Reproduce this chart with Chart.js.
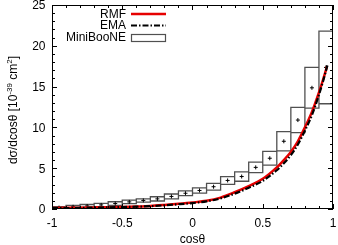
<!DOCTYPE html>
<html>
<head>
<meta charset="utf-8">
<script src="https://cdn.jsdelivr.net/npm/chart.js@4.4.0/dist/chart.umd.min.js"></script>
<style>
  html, body { margin: 0; padding: 0; background: #fff; }
  #wrap { width: 338px; height: 245px; }
</style>
</head>
<body>
<div id="wrap"><canvas id="chart" width="338" height="245"></canvas></div>
<script>
/* ================================================
   dσ/dcosθ : RMF / EMA vs MiniBooNE
   ================================================ */

// model curves
const rmfCos = [-1, -0.9, -0.8, -0.7, -0.6, -0.5, -0.4, -0.3, -0.2, -0.1, 0, 0.1, 0.2, 0.3, 0.4, 0.5, 0.6, 0.65, 0.7, 0.75, 0.8, 0.85, 0.9, 0.93, 0.958];
const rmf    = [0.12, 0.14, 0.16, 0.19, 0.22, 0.26, 0.31, 0.38, 0.5, 0.64, 0.8, 1.0, 1.4, 2.05, 2.8, 3.7, 5.1, 6.0, 7.0, 8.3, 10.0, 11.9, 14.3, 15.9, 17.5];
const emaCos = [-1, -0.9, -0.8, -0.7, -0.6, -0.5, -0.4, -0.3, -0.2, -0.1, 0, 0.1, 0.2, 0.3, 0.4, 0.5, 0.6, 0.65, 0.7, 0.75, 0.8, 0.85, 0.9, 0.93, 0.96];
const ema    = [0.1, 0.12, 0.14, 0.17, 0.2, 0.24, 0.28, 0.35, 0.45, 0.58, 0.73, 0.93, 1.3, 1.88, 2.6, 3.45, 4.75, 5.6, 6.6, 7.9, 9.6, 11.5, 14.0, 15.7, 17.6];

// MiniBooNE bins (lower edge, width 0.1), value and error
const binLow   = [-1.0, -0.9, -0.8, -0.7, -0.6, -0.5, -0.4, -0.3, -0.2, -0.1, 0.0, 0.1, 0.2, 0.3, 0.4, 0.5, 0.6, 0.7, 0.8, 0.9];
const binWidth = 0.1;
const miniVal  = [0.17, 0.27, 0.37, 0.5, 0.67, 0.87, 1.05, 1.24, 1.54, 1.93, 2.27, 2.73, 3.5, 3.98, 5.1, 6.22, 8.3, 10.9, 14.85, 17.35];
const miniErr  = [0.13, 0.17, 0.18, 0.2, 0.22, 0.22, 0.2, 0.26, 0.3, 0.29, 0.33, 0.41, 0.47, 0.58, 0.65, 0.85, 1.18, 1.55, 2.5, 4.45];

// axes
const xTicks = [-1, -0.5, 0, 0.5, 1];
const yTicks = [0, 5, 10, 15, 20, 25];
const xMinorStep = 0.1;
const yMinorStep = 1;

const FONT = '12px "Liberation Sans", Arial, Helvetica, sans-serif';
const RED  = '#e60000';
const BOX  = '#505050';
const EMA_DASH = [6, 2, 1.5, 2];

function toPoints(xs, ys) {
  return xs.map((x, i) => ({ x, y: ys[i] }));
}

function boxOutline() {
  const pts = [];
  binLow.forEach((x0, i) => {
    const x1 = x0 + binWidth;
    const lo = miniVal[i] - miniErr[i];
    const hi = miniVal[i] + miniErr[i];
    pts.push({ x: x0, y: lo }, { x: x1, y: lo }, { x: x1, y: hi }, { x: x0, y: hi }, { x: x0, y: lo });
    pts.push({ x: x0, y: null });
  });
  return pts;
}

const frame = {
  id: 'frame',
  afterDatasetsDraw(chart) {
    const { ctx, chartArea: a, scales: { x, y } } = chart;
    ctx.save();

    // frame
    ctx.strokeStyle = '#000';
    ctx.lineWidth = 1;
    ctx.strokeRect(a.left + 0.5, a.top + 0.5, a.right - a.left - 1, a.bottom - a.top - 1);

    // inside ticks, mirrored
    ctx.beginPath();
    for (let v = -1; v <= 1.0001; v += xMinorStep) {
      const px = Math.round(x.getPixelForValue(v)) + 0.5;
      const major = xTicks.some(t => Math.abs(t - v) < 1e-6);
      const len = major ? 5 : 3;
      ctx.moveTo(px, a.bottom); ctx.lineTo(px, a.bottom - len);
      ctx.moveTo(px, a.top);    ctx.lineTo(px, a.top + len);
    }
    for (let v = 0; v <= 25.0001; v += yMinorStep) {
      const py = Math.round(y.getPixelForValue(v)) + 0.5;
      const major = yTicks.includes(Math.round(v)) && Math.abs(v - Math.round(v)) < 1e-6;
      const len = major ? 5 : 3;
      ctx.moveTo(a.left, py);  ctx.lineTo(a.left + len, py);
      ctx.moveTo(a.right, py); ctx.lineTo(a.right - len, py);
    }
    ctx.stroke();

    // tick labels
    ctx.fillStyle = '#000';
    ctx.font = FONT;
    ctx.textBaseline = 'alphabetic';
    ctx.textAlign = 'center';
    xTicks.forEach(v => ctx.fillText(String(v), x.getPixelForValue(v), 227));
    ctx.textAlign = 'right';
    yTicks.forEach(v => ctx.fillText(String(v), 45.5, y.getPixelForValue(v) + 4.3));

    // x title
    ctx.textAlign = 'center';
    ctx.fillText('cosθ', (a.left + a.right) / 2, 243);

    // y title with superscripts
    ctx.save();
    ctx.translate(13, 110);
    ctx.rotate(-Math.PI / 2);
    const small = '8px "Liberation Sans", Arial, Helvetica, sans-serif';
    const parts = [
      ['dσ/dcosθ [10', FONT, 0],
      ['-39', small, -5],
      [' cm', FONT, 0],
      ['2', small, -5],
      [']', FONT, 0],
    ];
    let total = 0;
    parts.forEach(p => { ctx.font = p[1]; total += ctx.measureText(p[0]).width; });
    let cx = -total / 2;
    ctx.textAlign = 'left';
    parts.forEach(p => {
      ctx.font = p[1];
      ctx.fillText(p[0], cx, 4 + p[2]);
      cx += ctx.measureText(p[0]).width;
    });
    ctx.restore();

    // legend
    ctx.font = FONT;
    ctx.textAlign = 'right';
    ctx.fillText('RMF', 126, 18);
    ctx.fillText('EMA', 126, 29);
    ctx.fillText('MiniBooNE', 126, 41);

    ctx.lineWidth = 2.5;
    ctx.strokeStyle = RED;
    ctx.beginPath(); ctx.moveTo(131, 14); ctx.lineTo(166, 14); ctx.stroke();

    ctx.strokeStyle = '#000';
    ctx.lineWidth = 2.2;
    ctx.setLineDash(EMA_DASH);
    ctx.beginPath(); ctx.moveTo(131, 25.5); ctx.lineTo(166, 25.5); ctx.stroke();
    ctx.setLineDash([]);

    ctx.strokeStyle = BOX;
    ctx.lineWidth = 1.2;
    ctx.strokeRect(131.5, 34.5, 34, 7);

    ctx.restore();
  }
};

new Chart(document.getElementById('chart'), {
  type: 'scatter',
  data: {
    datasets: [
      {
        label: 'EMA',
        data: toPoints(emaCos, ema),
        showLine: true,
        borderColor: '#000',
        borderWidth: 2.2,
        borderDash: EMA_DASH,
        pointRadius: 0,
        cubicInterpolationMode: 'monotone',
        order: 0,
      },
      {
        label: 'RMF',
        data: toPoints(rmfCos, rmf),
        showLine: true,
        borderColor: RED,
        borderWidth: 2.5,
        pointRadius: 0,
        cubicInterpolationMode: 'monotone',
        order: 1,
      },
      {
        label: 'MiniBooNE points',
        data: binLow.map((x0, i) => ({ x: x0 + binWidth / 2, y: miniVal[i] })),
        showLine: false,
        pointStyle: 'cross',
        pointRadius: 2,
        borderColor: '#000',
        borderWidth: 1,
        order: 2,
      },
      {
        label: 'MiniBooNE',
        data: boxOutline(),
        showLine: true,
        spanGaps: false,
        borderColor: BOX,
        borderWidth: 1.3,
        pointRadius: 0,
        tension: 0,
        order: 3,
      },
    ],
  },
  options: {
    responsive: false,
    animation: false,
    events: [],
    layout: { padding: { top: 5, right: 2, left: 0, bottom: 0 } },
    plugins: { legend: { display: false }, tooltip: { enabled: false } },
    scales: {
      x: {
        type: 'linear',
        min: -1, max: 1,
        ticks: { display: false },
        grid: { display: false },
        border: { display: false },
        afterFit: s => { s.height = 36; },
      },
      y: {
        type: 'linear',
        min: 0, max: 25,
        ticks: { display: false },
        grid: { display: false },
        border: { display: false },
        afterFit: s => { s.width = 52; },
      },
    },
  },
  plugins: [frame],
});
</script>
</body>
</html>
